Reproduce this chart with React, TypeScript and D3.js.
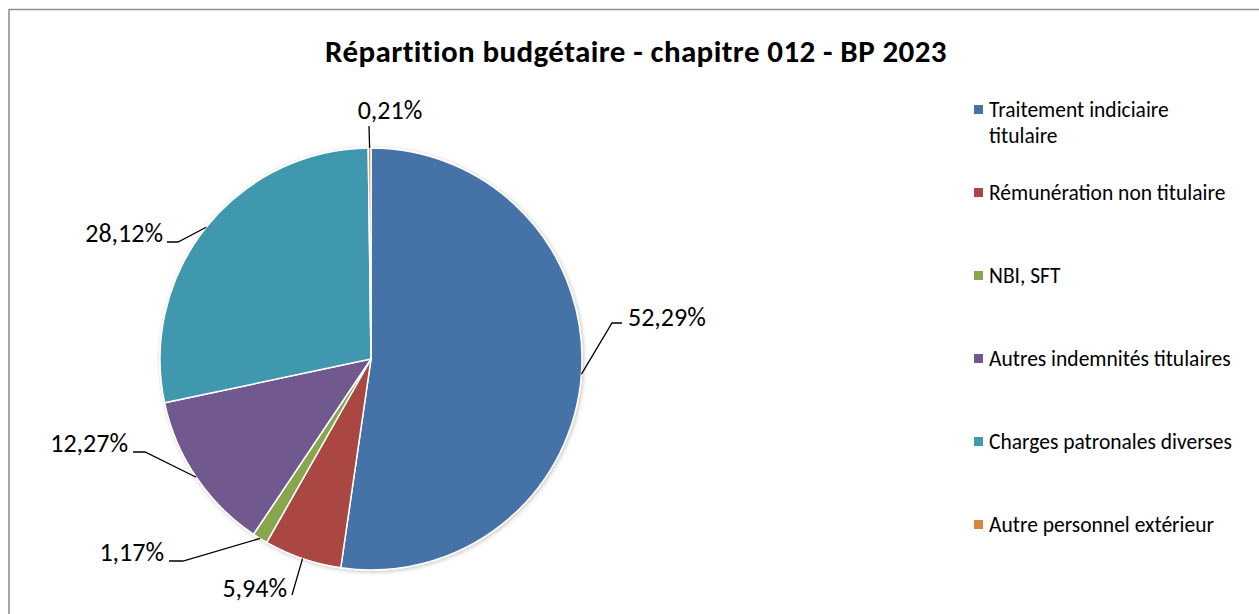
import React from "react";
import * as d3 from "d3";

const categories = [
  "Traitement indiciaire titulaire",
  "Rémunération non titulaire",
  "NBI, SFT",
  "Autres indemnités titulaires",
  "Charges patronales diverses",
  "Autre personnel extérieur",
];
const values = [52.29, 5.94, 1.17, 12.27, 28.12, 0.21];
const valueLabels = ["52,29%", "5,94%", "1,17%", "12,27%", "28,12%", "0,21%"];
const legendLines = [
  ["Traitement indiciaire", "titulaire"],
  ["Rémunération non titulaire"],
  ["NBI, SFT"],
  ["Autres indemnités titulaires"],
  ["Charges patronales diverses"],
  ["Autre personnel extérieur"],
];
const colors = ["#4572A7", "#AA4643", "#89A54E", "#71588F", "#4198AF", "#DB843D"];
const title = "Répartition budgétaire - chapitre 012 - BP 2023";

// label layout (best-fit placement as in the reference): elbow point, line end, text anchor point
const labelLayout = [
  { elbow: [612, 323], end: [622, 323], text: [628, 326], anchor: "start" },
  { elbow: null, end: [292, 595], text: [287, 597], anchor: "end" },
  { elbow: [183, 561], end: [169, 561], text: [164, 561], anchor: "end" },
  { elbow: [145, 452], end: [133, 452], text: [128, 452], anchor: "end" },
  { elbow: [178, 242], end: [167, 242], text: [163, 242], anchor: "end" },
  { elbow: null, end: [369, 126], text: [390, 119], anchor: "middle" },
];

const W = 1259;
const H = 614;
const cx = 371;
const cy = 359;
const R = 211;

export default function App() {
  const pie = d3.pie<number>().sort(null).value((d) => d)(values);
  const arc = d3.arc<d3.PieArcDatum<number>>().innerRadius(0).outerRadius(R);
  const edge = d3.arc<d3.PieArcDatum<number>>().innerRadius(R).outerRadius(R);
  const font = "Carlito, Calibri, Lato, sans-serif";

  return (
    <svg
      width={W}
      height={H}
      style={{ position: "absolute", left: 0, top: 0, background: "#fff" }}
    >
      <defs>
        <filter id="sh" x="-10%" y="-10%" width="120%" height="120%">
          <feDropShadow dx="1" dy="1" stdDeviation="2" floodColor="#000" floodOpacity="0.25" />
        </filter>
      </defs>
      <rect x={9} y={9.5} width={W + 10} height={H + 10} fill="#fff" stroke="#8c8c8c" strokeWidth={1.5} />
      <text
        x={636}
        y={62}
        textAnchor="middle"
        fontFamily={font}
        fontWeight="bold"
        fontSize={31}
        letterSpacing={0.4}
        fill="#000"
      >
        {title}
      </text>
      <g transform={`translate(${cx},${cy})`}>
        <g filter="url(#sh)">
          {pie.map((p, i) => (
            <path key={i} d={arc(p) || ""} fill={colors[i]} stroke="#fff" strokeWidth={1.5} />
          ))}
        </g>
      </g>
      {pie.map((p, i) => {
        const [ex, ey] = edge.centroid(p);
        const L = labelLayout[i];
        const pts: [number, number][] = [[cx + ex, cy + ey]];
        if (L.elbow) pts.push(L.elbow as [number, number]);
        pts.push(L.end as [number, number]);
        const line = d3.line()(pts) || "";
        return (
          <g key={i}>
            <path d={line} fill="none" stroke="#000" strokeWidth={1.3} />
            <text
              x={L.text[0]}
              y={L.text[1]}
              textAnchor={L.anchor as any}
              fontFamily={font}
              fontSize={26}
              fill="#000"
            >
              {valueLabels[i]}
            </text>
          </g>
        );
      })}
      {categories.map((c, i) => {
        const baseY = i === 0 ? 117 : 200 + (i - 1) * 83;
        return (
          <g key={c}>
            <rect x={974} y={baseY - 12} width={9} height={9} fill={colors[i]} />
            <text fontFamily={font} fontSize={21.5} fill="#000">
              {legendLines[i].map((ln, j) => (
                <tspan key={j} x={989} y={baseY + j * 26}>
                  {ln}
                </tspan>
              ))}
            </text>
          </g>
        );
      })}
    </svg>
  );
}
